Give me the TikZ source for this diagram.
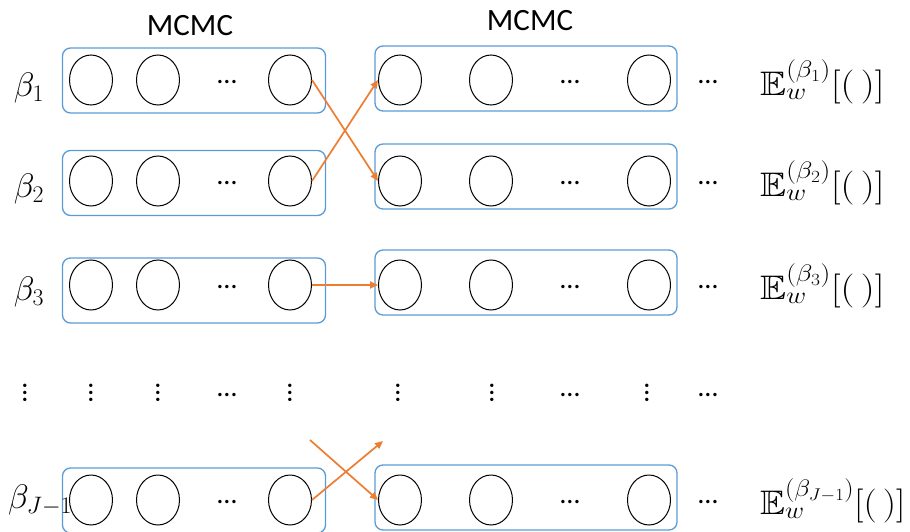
\RequirePackage{fix-cm}
\documentclass[tikz,border=0pt]{standalone}
\usepackage{amssymb}
\usepackage{fontspec}
\newfontfamily\calfont{Carlito}
\usetikzlibrary{shapes.geometric,arrows.meta}
\definecolor{boxblue}{HTML}{5B9BD5}
\definecolor{arrorange}{HTML}{ED7D31}
\begin{document}
\begin{tikzpicture}[x=1pt,y=-1pt,
  lbox/.style={draw=boxblue, line width=1.3pt, rounded corners=8pt, minimum width=263pt, minimum height=65pt, inner sep=0pt},
  rbox/.style={draw=boxblue, line width=1.3pt, rounded corners=8pt, minimum width=302pt, minimum height=65pt, inner sep=0pt},
  st/.style={draw=black, ellipse, line width=1pt, minimum width=43pt, minimum height=50pt, inner sep=0pt},
  hd/.style={font=\calfont\fontsize{31}{34}\selectfont, inner sep=0pt},
  dd/.style={font=\calfont\fontsize{28}{30}\selectfont, inner sep=0pt},
  mth/.style={font=\fontsize{34}{38}\selectfont, inner sep=0pt},
  arr/.style={draw=arrorange, line width=1.7pt, -{Triangle[length=8pt,width=7pt]}},
]
\useasboundingbox (0,0) rectangle (910,532);

\node[hd] (mc1) at (190,26) {MCMC};
\node[hd] (mc2) at (530,21) {MCMC};

\foreach \r/\cy/\ly/\ry in {1/80/80.5/78.5, 2/181/183/176.5, 3/285/290.5/282.5, 4/500/500.5/497.5}{
  \node[lbox] (LB\r) at (194,\ly) {};
  \node[rbox] (RB\r) at (526,\ry) {};
  \node[st] (L\r a) at (91,\cy) {};
  \node[st] (L\r b) at (158,\cy) {};
  \node[dd] (L\r dots) at (227,\cy+2) {…};
  \node[st] (L\r d) at (290,\cy) {};
  \node[st] (R\r a) at (400,\cy) {};
  \node[st] (R\r b) at (491,\cy) {};
  \node[dd] (R\r dots) at (570,\cy+2) {…};
  \node[st] (R\r d) at (649,\cy) {};
  \node[dd] (O\r dots) at (708,\cy+2) {…};
}

\node[mth] (b1) at (29,88) {$\beta_1$};
\node[mth] (b2) at (29,189) {$\beta_2$};
\node[mth] (b3) at (29,292) {$\beta_3$};
\node[mth,anchor=west] (b4) at (8,500) {$\beta_{J-1}$};

\node[mth,anchor=west] (e1) at (760,82) {\scalebox{1.15}[1]{$\mathbb{E}_w^{(\beta_1)}[(\,)]$}};
\node[mth,anchor=west] (e2) at (760,183) {\scalebox{1.15}[1]{$\mathbb{E}_w^{(\beta_2)}[(\,)]$}};
\node[mth,anchor=west] (e3) at (760,286) {\scalebox{1.15}[1]{$\mathbb{E}_w^{(\beta_3)}[(\,)]$}};
\node[mth,anchor=west] (e4) at (760,501) {\scalebox{1.1}[1]{$\mathbb{E}_w^{(\beta_{J-1})}[(\,)]$}};

\foreach \n/\x in {v1/25, v2/91, v3/158, v4/290, v5/398, v6/492, v7/647}{
  \node[dd] (\n) at (\x,393) {\rotatebox{90}{…}};
}
\node[dd] (h1) at (227,395) {…};
\node[dd] (h2) at (570,395) {…};
\node[dd] (h3) at (708,395) {…};

\draw[arr] (L1d.east) -- (R2a.west);
\draw[arr] (L2d.east) -- (R1a.west);
\draw[arr] (L3d.east) -- (R3a.west);
\coordinate (x1) at (310,440);
\coordinate (x2) at (383,441);
\draw[arr] (x1) -- (R4a.west);
\draw[arr] (L4d.east) -- (x2);
\end{tikzpicture}
\end{document}
